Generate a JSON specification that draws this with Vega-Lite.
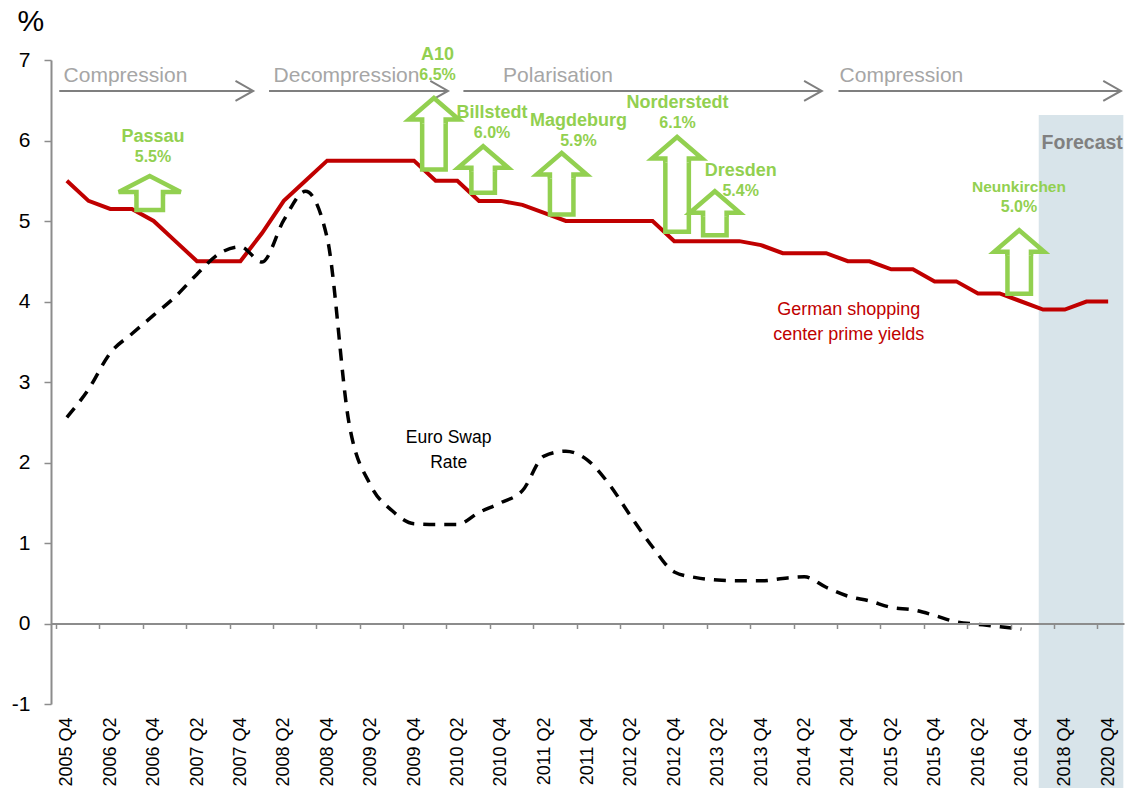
{
  "$schema": "https://vega.github.io/schema/vega-lite/v6.json",
  "width": 1073,
  "height": 644,
  "autosize": {"type": "none"},
  "padding": {"left": 51, "top": 60, "right": 3, "bottom": 84},
  "background": "white",
  "config": {"view": {"stroke": null}, "font": "Liberation Sans"},
  "datasets": {
    "series": [
      {"i": 0, "q": "2005 Q4", "yield": 5.5, "swap": 2.56},
      {"i": 1, "q": "2006 Q1", "yield": 5.25, "swap": 2.91},
      {"i": 2, "q": "2006 Q2", "yield": 5.15, "swap": 3.36},
      {"i": 3, "q": "2006 Q3", "yield": 5.15, "swap": 3.6},
      {"i": 4, "q": "2006 Q4", "yield": 5.0, "swap": 3.83},
      {"i": 5, "q": "2007 Q1", "yield": 4.75, "swap": 4.06},
      {"i": 6, "q": "2007 Q2", "yield": 4.5, "swap": 4.34},
      {"i": 7, "q": "2007 Q3", "yield": 4.5, "swap": 4.59},
      {"i": 8, "q": "2007 Q4", "yield": 4.5, "swap": 4.68},
      {"i": 9, "q": "2008 Q1", "yield": 4.85, "swap": 4.49},
      {"i": 10, "q": "2008 Q2", "yield": 5.25, "swap": 5.01},
      {"i": 11, "q": "2008 Q3", "yield": 5.5, "swap": 5.37},
      {"i": 12, "q": "2008 Q4", "yield": 5.75, "swap": 4.79},
      {"i": 13, "q": "2009 Q1", "yield": 5.75, "swap": 2.5},
      {"i": 14, "q": "2009 Q2", "yield": 5.75, "swap": 1.72},
      {"i": 15, "q": "2009 Q3", "yield": 5.75, "swap": 1.4},
      {"i": 16, "q": "2009 Q4", "yield": 5.75, "swap": 1.24},
      {"i": 17, "q": "2010 Q1", "yield": 5.5, "swap": 1.23},
      {"i": 18, "q": "2010 Q2", "yield": 5.5, "swap": 1.23},
      {"i": 19, "q": "2010 Q3", "yield": 5.25, "swap": 1.38},
      {"i": 20, "q": "2010 Q4", "yield": 5.25, "swap": 1.5},
      {"i": 21, "q": "2011 Q1", "yield": 5.2, "swap": 1.65},
      {"i": 22, "q": "2011 Q2", "yield": 5.1, "swap": 2.08},
      {"i": 23, "q": "2011 Q3", "yield": 5.0, "swap": 2.14},
      {"i": 24, "q": "2011 Q4", "yield": 5.0, "swap": 2.03},
      {"i": 25, "q": "2012 Q1", "yield": 5.0, "swap": 1.73},
      {"i": 26, "q": "2012 Q2", "yield": 5.0, "swap": 1.33},
      {"i": 27, "q": "2012 Q3", "yield": 5.0, "swap": 0.95},
      {"i": 28, "q": "2012 Q4", "yield": 4.75, "swap": 0.64},
      {"i": 29, "q": "2013 Q1", "yield": 4.75, "swap": 0.57},
      {"i": 30, "q": "2013 Q2", "yield": 4.75, "swap": 0.54},
      {"i": 31, "q": "2013 Q3", "yield": 4.75, "swap": 0.53},
      {"i": 32, "q": "2013 Q4", "yield": 4.7, "swap": 0.53},
      {"i": 33, "q": "2014 Q1", "yield": 4.6, "swap": 0.56},
      {"i": 34, "q": "2014 Q2", "yield": 4.6, "swap": 0.58},
      {"i": 35, "q": "2014 Q3", "yield": 4.6, "swap": 0.45},
      {"i": 36, "q": "2014 Q4", "yield": 4.5, "swap": 0.34},
      {"i": 37, "q": "2015 Q1", "yield": 4.5, "swap": 0.28},
      {"i": 38, "q": "2015 Q2", "yield": 4.4, "swap": 0.2},
      {"i": 39, "q": "2015 Q3", "yield": 4.4, "swap": 0.17},
      {"i": 40, "q": "2015 Q4", "yield": 4.25, "swap": 0.1},
      {"i": 41, "q": "2016 Q1", "yield": 4.25, "swap": 0.02},
      {"i": 42, "q": "2016 Q2", "yield": 4.1, "swap": -0.01},
      {"i": 43, "q": "2016 Q3", "yield": 4.1, "swap": -0.04},
      {"i": 44, "q": "2016 Q4", "yield": 4.0, "swap": -0.07},
      {"i": 45, "q": "2017 Q4", "yield": 3.9, "swap": null},
      {"i": 46, "q": "2018 Q4", "yield": 3.9, "swap": null},
      {"i": 47, "q": "2019 Q4", "yield": 4.0, "swap": null},
      {"i": 48, "q": "2020 Q4", "yield": 4.0, "swap": null}
    ],
    "arrows": [
      {"name": "Passau", "pct": "5.5%", "xc": 3.82, "base": 5.36, "bottom": 5.137, "lx": 3.97, "ly": 5.985},
      {"name": "A10", "pct": "6.5%", "xc": 16.92, "base": 6.261, "bottom": 5.64, "lx": 17.09, "ly": 7.0},
      {"name": "Billstedt", "pct": "6.0%", "xc": 19.19, "base": 5.662, "bottom": 5.351, "lx": 19.6, "ly": 6.276},
      {"name": "Magdeburg", "pct": "5.9%", "xc": 22.81, "base": 5.578, "bottom": 5.081, "lx": 23.58, "ly": 6.18},
      {"name": "Norderstedt", "pct": "6.1%", "xc": 28.13, "base": 5.777, "bottom": 4.867, "lx": 28.15, "ly": 6.4},
      {"name": "Dresden", "pct": "5.4%", "xc": 29.87, "base": 5.103, "bottom": 4.823, "lx": 31.06, "ly": 5.565},
      {"name": "Neunkirchen", "pct": "5.0%", "xc": 43.9, "base": 4.618, "bottom": 4.096, "lx": 43.89, "ly": 5.357}
    ],
    "phases": [
      {"phase": "Compression", "tx": -0.15, "x0": -0.35, "x1": 8.59},
      {"phase": "Decompression", "tx": 9.53, "x0": 9.32, "x1": 17.57},
      {"phase": "Polarisation", "tx": 20.11, "x0": 18.28, "x1": 34.8},
      {"phase": "Compression", "tx": 35.62, "x0": 35.57, "x1": 48.59}
    ]
  },
  "layer": [
    {
      "data": {"name": "series"},
      "mark": {"type": "line", "color": "#C00000", "strokeWidth": 4, "opacity": 0},
      "encoding": {
        "x": {
          "field": "i", "type": "quantitative",
          "scale": {"domain": [-0.5, 48.5], "nice": false, "zero": false},
          "axis": {
            "orient": "bottom", "offset": -80.5,
            "values": [-0.5,0.5,1.5,2.5,3.5,4.5,5.5,6.5,7.5,8.5,9.5,10.5,11.5,12.5,13.5,14.5,15.5,16.5,17.5,18.5,19.5,20.5,21.5,22.5,23.5,24.5,25.5,26.5,27.5,28.5,29.5,30.5,31.5,32.5,33.5,34.5,35.5,36.5,37.5,38.5,39.5,40.5,41.5,42.5,43.5,44.5,45.5,46.5,47.5,48.5],
            "labelExpr": "(datum.value + 0.5) % 2 === 0 ? ((datum.value + 0.5) <= 44 ? (2005 + floor((datum.value + 3.5) / 4)) + ' Q' + ((datum.value + 3.5) % 4 + 1) : (1972 + datum.value + 0.5) + ' Q4') : ''",
            "labelOffset": 10.95,
            "labelAngle": -90,
            "labelAlign": "right",
            "labelBaseline": "middle",
            "labelPadding": 88.5,
            "labelFont": "Liberation Sans",
            "labelFontSize": 18,
            "labelColor": "#000000",
            "labelOverlap": false,
            "labelBound": false,
            "labelFlush": false,
            "tickSize": 5,
            "tickColor": "#8C8C8C",
            "tickWidth": 1.5,
            "domainColor": "#8C8C8C",
            "domainWidth": 2,
            "grid": false,
            "title": null,
            "zindex": 1
          }
        },
        "y": {
          "field": "yield", "type": "quantitative",
          "scale": {"domain": [-1, 7], "nice": false, "zero": false},
          "axis": {
            "orient": "left",
            "values": [-1, 0, 1, 2, 3, 4, 5, 6, 7],
            "labelExpr": "'' + datum.value",
            "tickSize": 7,
            "tickColor": "#8C8C8C",
            "tickWidth": 1.5,
            "domainColor": "#8C8C8C",
            "domainWidth": 2,
            "labelFont": "Liberation Sans",
            "labelFontSize": 21,
            "labelColor": "#000000",
            "labelPadding": 14,
            "labelBound": false,
            "labelFlush": false,
            "grid": false,
            "title": "%",
            "titleFont": "Liberation Sans",
            "titleFontSize": 30,
            "titleFontWeight": "normal",
            "titleColor": "#000000",
            "titleAngle": 0,
            "titleAlign": "left",
            "titleBaseline": "alphabetic",
            "titleX": -34,
            "titleY": -29.7,
            "zindex": 1
          }
        }
      }
    },
    {
      "data": {"values": [{"label": "Forecast"}]},
      "mark": {"type": "rect", "color": "#D8E4EA", "clip": false},
      "encoding": {
        "x": {"datum": 44.8, "type": "quantitative"},
        "x2": {"datum": 48.7},
        "y": {"datum": 6.317, "type": "quantitative"},
        "y2": {"datum": -2.05}
      }
    },
    {
      "data": {"name": "series"},
      "mark": {"type": "line", "color": "#C00000", "strokeWidth": 4},
      "encoding": {
        "x": {"field": "i", "type": "quantitative"},
        "y": {"field": "yield", "type": "quantitative"}
      }
    },
    {
      "data": {"name": "series"},
      "mark": {"type": "line", "color": "#000000", "strokeWidth": 3.5, "strokeDash": [12, 9], "interpolate": "monotone"},
      "encoding": {
        "x": {"field": "i", "type": "quantitative"},
        "y": {"field": "swap", "type": "quantitative"}
      }
    },
    {
      "data": {"name": "phases"},
      "mark": {"type": "rule", "color": "#7F7F7F", "strokeWidth": 2, "clip": false},
      "encoding": {
        "x": {"field": "x0", "type": "quantitative"},
        "x2": {"field": "x1"},
        "y": {"datum": 6.615, "type": "quantitative"}
      }
    },
    {
      "data": {"name": "phases"},
      "mark": {"type": "point", "shape": "M-1.77,-1L0,0L-1.77,1", "size": 400, "filled": false, "stroke": "#7F7F7F", "strokeWidth": 2, "opacity": 1, "clip": false},
      "encoding": {
        "x": {"field": "x1", "type": "quantitative"},
        "y": {"datum": 6.615, "type": "quantitative"}
      }
    },
    {
      "data": {"name": "phases"},
      "mark": {"type": "text", "font": "Liberation Sans", "fontSize": 21, "color": "#A6A6A6", "align": "left", "baseline": "alphabetic"},
      "encoding": {
        "x": {"field": "tx", "type": "quantitative"},
        "y": {"datum": 6.73, "type": "quantitative"},
        "text": {"field": "phase"}
      }
    },
    {
      "data": {"name": "arrows"},
      "mark": {"type": "bar", "fill": "#FFFFFF", "stroke": "#92D050", "strokeWidth": 4.5, "strokeJoin": "miter", "opacity": 1},
      "encoding": {
        "x": {"field": "xc", "type": "quantitative"},
        "y": {"field": "bottom", "type": "quantitative"},
        "y2": {"field": "base"},
        "size": {"condition": {"test": "datum.name === 'Passau'", "value": 26.5}, "value": 23.5}
      }
    },
    {
      "data": {"name": "arrows"},
      "mark": {"type": "point", "filled": true, "fill": "#FFFFFF", "stroke": "#92D050", "strokeWidth": 4.5, "strokeJoin": "miter", "opacity": 1},
      "encoding": {
        "x": {"field": "xc", "type": "quantitative"},
        "y": {"field": "base", "type": "quantitative"},
        "shape": {"condition": {"test": "datum.name === 'Passau'", "value": "M-0.427,0.13L-0.427,0L-1,0L0,-0.516L1,0L0.427,0L0.427,0.13"}, "value": "M-0.47,0.16L-0.47,0L-1,0L0,-0.86L1,0L0.47,0L0.47,0.16"},
        "size": {"condition": {"test": "datum.name === 'Passau'", "value": 3844}, "value": 2500}
      }
    },
    {
      "data": {"name": "arrows"},
      "mark": {"type": "text", "font": "Liberation Sans", "fontWeight": "bold", "color": "#92D050", "align": "center", "baseline": "alphabetic"},
      "encoding": {
        "x": {"field": "lx", "type": "quantitative"},
        "y": {"field": "ly", "type": "quantitative"},
        "text": {"field": "name"},
        "size": {"condition": {"test": "datum.name === 'Neunkirchen'", "value": 15.5}, "value": 18}
      }
    },
    {
      "data": {"name": "arrows"},
      "mark": {"type": "text", "font": "Liberation Sans", "fontWeight": "bold", "fontSize": 16, "color": "#92D050", "align": "center", "baseline": "alphabetic", "dy": 20},
      "encoding": {
        "x": {"field": "lx", "type": "quantitative"},
        "y": {"field": "ly", "type": "quantitative"},
        "text": {"field": "pct"}
      }
    },
    {
      "data": {"values": [{"label": "German shopping\ncenter prime yields"}]},
      "mark": {"type": "text", "font": "Liberation Sans", "fontSize": 18, "color": "#C00000", "align": "center", "baseline": "alphabetic", "lineBreak": "\n", "lineHeight": 25},
      "encoding": {
        "x": {"datum": 36.04, "type": "quantitative"},
        "y": {"datum": 3.833, "type": "quantitative"},
        "text": {"field": "label"}
      }
    },
    {
      "data": {"values": [{"label": "Euro Swap\nRate"}]},
      "mark": {"type": "text", "font": "Liberation Sans", "fontSize": 17.5, "color": "#000000", "align": "center", "baseline": "alphabetic", "lineBreak": "\n", "lineHeight": 25},
      "encoding": {
        "x": {"datum": 17.6, "type": "quantitative"},
        "y": {"datum": 2.238, "type": "quantitative"},
        "text": {"field": "label"}
      }
    },
    {
      "data": {"values": [{"label": "Forecast"}]},
      "mark": {"type": "text", "font": "Liberation Sans", "fontWeight": "bold", "fontSize": 19.5, "color": "#808080", "align": "left", "baseline": "alphabetic"},
      "encoding": {
        "x": {"datum": 44.93, "type": "quantitative"},
        "y": {"datum": 5.894, "type": "quantitative"},
        "text": {"field": "label"}
      }
    }
  ]
}
